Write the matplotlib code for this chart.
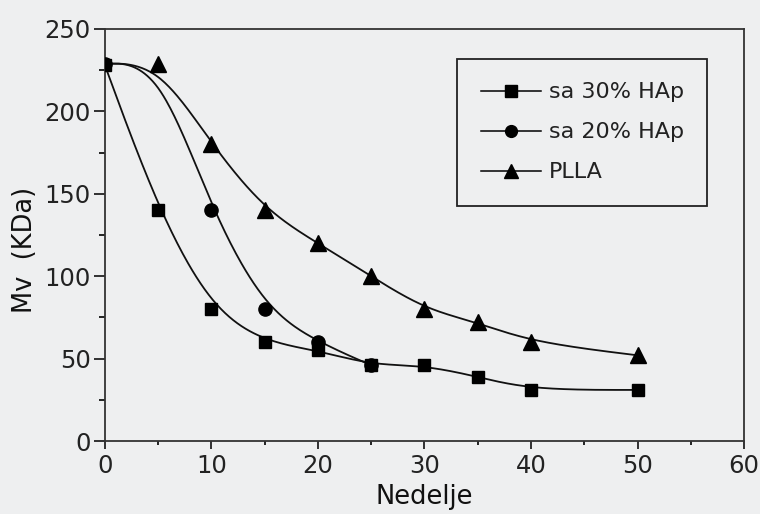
import numpy as np
import matplotlib
matplotlib.use("Agg")
import matplotlib.pyplot as plt
from matplotlib.ticker import MultipleLocator

plt.rcParams['font.family'] = ['DejaVu Sans']

# podaci (procitani sa slike)
weeks_30 = [0, 5, 10, 15, 20, 25, 30, 35, 40, 50]
mv_30 = [228, 140, 80, 60, 55, 46, 46, 39, 31, 31]

weeks_20 = [0, 5, 10, 15, 20, 25]
mv_20 = [229, 229, 140, 80, 60, 46]
shown_20 = [0, 2, 3, 4, 5]

weeks_plla = [0, 5, 10, 15, 20, 25, 30, 35, 40, 50]
mv_plla = [229, 229, 180, 140, 120, 100, 80, 72, 60, 52]
shown_plla = [1, 2, 3, 4, 5, 6, 7, 8, 9]

labels = ['sa 30% HAp', 'sa 20% HAp', 'PLLA']


def bspline(xs, ys, n=40):
    # uniformni kubni B-spline, krajnje tacke ponovljene 3 puta
    P = np.column_stack([xs, ys]).astype(float)
    P = np.vstack([P[:1], P[:1], P, P[-1:], P[-1:]])
    u = np.linspace(0, 1, n)
    b0 = (1 - u) ** 3 / 6
    b1 = (3 * u ** 3 - 6 * u ** 2 + 4) / 6
    b2 = (-3 * u ** 3 + 3 * u ** 2 + 3 * u + 1) / 6
    b3 = u ** 3 / 6
    segs = []
    for i in range(len(P) - 3):
        seg = (np.outer(b0, P[i]) + np.outer(b1, P[i + 1])
               + np.outer(b2, P[i + 2]) + np.outer(b3, P[i + 3]))
        segs.append(seg)
    c = np.vstack(segs)
    return c[:, 0], c[:, 1]


bg = '#eeeff0'
fig = plt.figure(figsize=(7.6, 5.14), dpi=100)
fig.patch.set_facecolor(bg)
ax = fig.add_axes([0.138, 0.142, 0.841, 0.8016])
ax.set_facecolor(bg)

lw = 1.3
ms = 9

# krive
x, y = bspline(weeks_20, mv_20)
ax.plot(x, y, '-', color='#111111', lw=lw, zorder=2)
x, y = bspline(weeks_plla, mv_plla)
ax.plot(x, y, '-', color='#111111', lw=lw, zorder=2)
x, y = bspline(weeks_30, mv_30)
ax.plot(x, y, '-', color='#111111', lw=lw, zorder=2)

# markeri
ax.plot(weeks_20, mv_20, 'ko', ms=ms + 0.5, markevery=shown_20, zorder=3)
ax.plot(weeks_plla, mv_plla, 'k^', ms=ms + 2, markevery=shown_plla, zorder=4)
ax.plot(weeks_30, mv_30, 'ks', ms=ms, zorder=5)

# legenda
h1, = ax.plot([], [], 'k-s', lw=1.1, ms=8)
h2, = ax.plot([], [], 'k-o', lw=1.1, ms=8.5)
h3, = ax.plot([], [], 'k-^', lw=1.1, ms=9.5)
leg = ax.legend([h1, h2, h3], labels, loc='upper right',
                bbox_to_anchor=(0.942, 0.927), fontsize=16, frameon=True,
                fancybox=False, edgecolor='#222222', facecolor=bg,
                framealpha=1, handlelength=2.7, handletextpad=0.35,
                labelspacing=0.9, borderpad=1.05, borderaxespad=0)
leg.get_frame().set_linewidth(1.3)
for t in leg.get_texts():
    t.set_color('#222222')

ax.set_xlim(0, 60)
ax.set_ylim(0, 250)
ax.xaxis.set_major_locator(MultipleLocator(10))
ax.xaxis.set_minor_locator(MultipleLocator(5))
ax.yaxis.set_major_locator(MultipleLocator(50))
ax.yaxis.set_minor_locator(MultipleLocator(25))
ax.tick_params(which='major', direction='out', width=1.3,
               labelsize=17.5, colors='#222222')
ax.tick_params(axis='y', which='major', length=8, pad=2)
ax.tick_params(axis='y', which='minor', direction='out', length=4.5, width=1.2)
ax.tick_params(axis='x', which='major', length=6, pad=3)
ax.tick_params(axis='x', which='minor', direction='out', length=3, width=1.2)
for s in ax.spines.values():
    s.set_linewidth(1.3)
    s.set_color('#333333')

ax.set_xlabel('Nedelje', fontsize=18.5, color='#111111')
ax.set_ylabel('Mv  (KDa)', fontsize=18.5, color='#111111')
ax.xaxis.set_label_coords(0.5, -0.105)
ax.yaxis.set_label_coords(-0.104, 0.464)

fig.savefig('out.png', dpi=100, facecolor=fig.get_facecolor())
